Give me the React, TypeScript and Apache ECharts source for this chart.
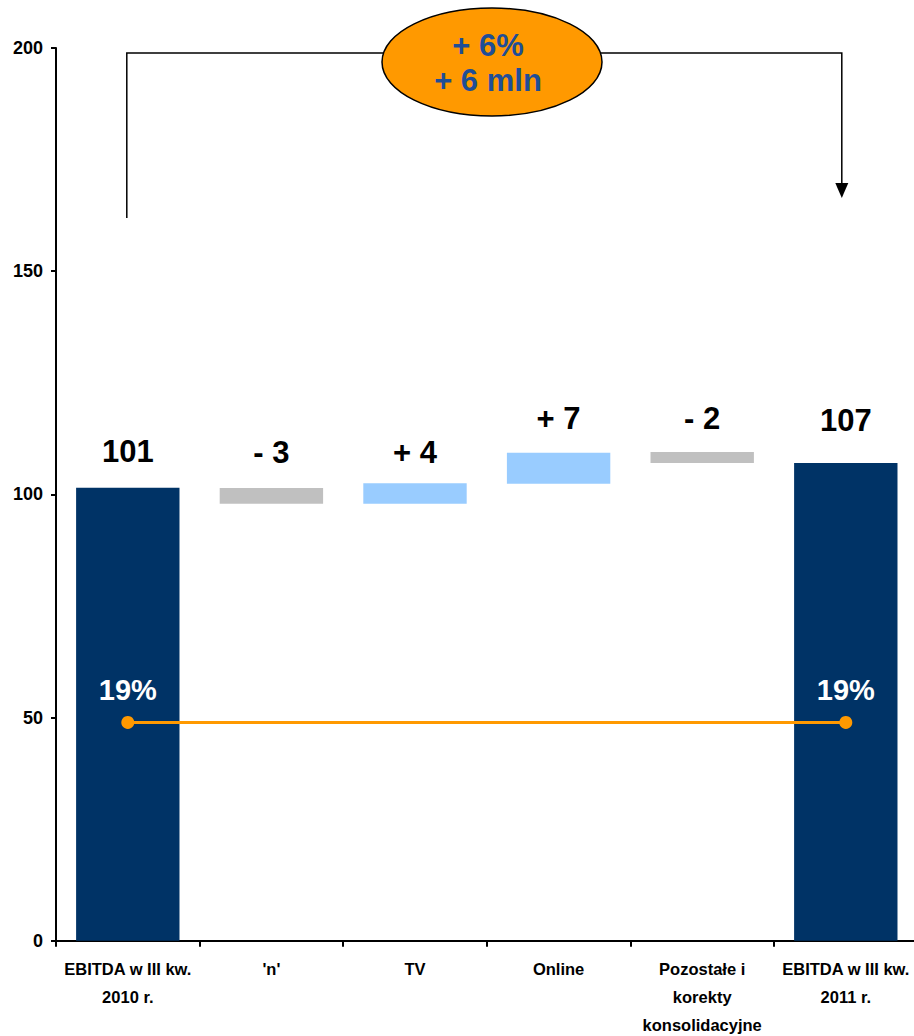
import React, { useEffect, useRef } from "react";
import * as echarts from "echarts";

const categories = [
  "EBITDA w III kw.\n2010 r.",
  "'n'",
  "TV",
  "Online",
  "Pozostałe i\nkorekty\nkonsolidacyjne",
  "EBITDA w III kw.\n2011 r.",
];
const lows = [0, 97.9, 97.9, 102.4, 107.0, 0];
const highs = [101.5, 101.4, 102.5, 109.3, 109.5, 107.0];
const valueLabels = ["101", "- 3", "+ 4", "+ 7", "- 2", "107"];
const labelDistances = [20, 20, 15, 18, 17, 27];
const barColors = ["#003366", "#C0C0C0", "#99CCFF", "#99CCFF", "#C0C0C0", "#003366"];
const marginValues = [48.9, null, null, null, null, 48.9];
const marginLabels = ["19%", "", "", "", "", "19%"];
const yTicks = { min: 0, max: 200, interval: 50 };
const bracketLeftStart = 161.9;
const bracketTop = 198.9;
const bracketArrowTip = 166.4;
const changeTexts = ["+ 6%", "+ 6 mln"];

const FONT = '"Liberation Sans", Arial, sans-serif';

export default function App() {
  const ref = useRef<HTMLDivElement>(null);
  useEffect(() => {
    if (!ref.current) return;
    const chart = echarts.init(ref.current, null, { renderer: "svg" });
    const option: any = {
      animation: false,
      backgroundColor: "#ffffff",
      grid: { left: 56, top: 48, width: 861.6, height: 892.7, containLabel: false, outerBoundsMode: "none" },
      xAxis: {
        type: "category",
        data: categories,
        axisLine: { show: true, lineStyle: { color: "#000", width: 2 } },
        axisTick: { show: true, length: 6, interval: 0, lineStyle: { color: "#000", width: 2 } },
        axisLabel: {
          interval: 0,
          margin: 14,
          color: "#000",
          fontFamily: FONT,
          fontWeight: "bold",
          fontSize: 16.5,
          lineHeight: 28,
        },
        splitLine: { show: false },
      },
      yAxis: {
        type: "value",
        min: yTicks.min,
        max: yTicks.max,
        interval: yTicks.interval,
        axisLine: { show: true, lineStyle: { color: "#000", width: 2 } },
        axisTick: { show: true, length: 5, lineStyle: { color: "#000", width: 2 } },
        axisLabel: { margin: 13, color: "#000", fontFamily: FONT, fontWeight: "bold", fontSize: 18 },
        splitLine: { show: false },
      },
      series: [
        {
          type: "bar",
          stack: "w",
          barWidth: "72%",
          itemStyle: { color: "transparent" },
          emphasis: { disabled: true },
          data: lows,
        },
        {
          type: "bar",
          stack: "w",
          barWidth: "72%",
          emphasis: { disabled: true },
          data: highs.map((h, i) => ({
            value: +(h - lows[i]).toFixed(2),
            itemStyle: { color: barColors[i] },
            label: {
              show: true,
              position: "top",
              distance: labelDistances[i],
              formatter: valueLabels[i],
              color: "#000",
              fontFamily: FONT,
              fontWeight: "bold",
              fontSize: 31,
              lineHeight: 32,
            },
          })),
        },
        {
          type: "line",
          data: marginValues,
          connectNulls: true,
          symbol: "circle",
          symbolSize: 13,
          lineStyle: { color: "#FF9900", width: 3 },
          itemStyle: { color: "#FF9900" },
          label: {
            show: true,
            position: "top",
            distance: 11,
            formatter: (p: any) => marginLabels[p.dataIndex],
            color: "#fff",
            fontFamily: FONT,
            fontWeight: "bold",
            fontSize: 29,
            lineHeight: 30,
          },
          z: 5,
        },
      ],
    };
    chart.setOption(option);

    const pL = chart.convertToPixel({ gridIndex: 0 }, [0, bracketLeftStart]) as number[];
    const pT = chart.convertToPixel({ gridIndex: 0 }, [0, bracketTop]) as number[];
    const pR = chart.convertToPixel({ gridIndex: 0 }, [5, bracketArrowTip]) as number[];
    const xL = pL[0] - 1;
    const xR = pR[0] - 4;
    const yTop = pT[1];
    const tipY = pR[1];
    const cx = 492;
    const cy = 62;
    chart.setOption({
      graphic: [
        {
          type: "polyline",
          shape: { points: [[xL, pL[1]], [xL, yTop], [xR, yTop], [xR, tipY - 14]] },
          style: { stroke: "#000", lineWidth: 1.5, fill: "none" },
          z: 10,
        },
        {
          type: "polygon",
          shape: { points: [[xR - 6.5, tipY - 15], [xR + 6.5, tipY - 15], [xR, tipY]] },
          style: { fill: "#000" },
          z: 10,
        },
        {
          type: "ellipse",
          shape: { cx, cy, rx: 110, ry: 54 },
          style: { fill: "#FF9900", stroke: "#000", lineWidth: 1.5 },
          z: 11,
        },
        {
          type: "text",
          x: cx - 4,
          y: 45,
          style: {
            text: changeTexts[0],
            fill: "#1F4E96",
            font: `bold 31px ${FONT}`,
            textAlign: "center",
            textVerticalAlign: "middle",
          },
          z: 12,
        },
        {
          type: "text",
          x: cx - 4,
          y: 80,
          style: {
            text: changeTexts[1],
            fill: "#1F4E96",
            font: `bold 31px ${FONT}`,
            textAlign: "center",
            textVerticalAlign: "middle",
          },
          z: 12,
        },
      ],
    });
    return () => chart.dispose();
  }, []);
  return (
    <div
      ref={ref}
      style={{ position: "absolute", left: 0, top: 0, width: 914, height: 1036, background: "#fff" }}
    />
  );
}
